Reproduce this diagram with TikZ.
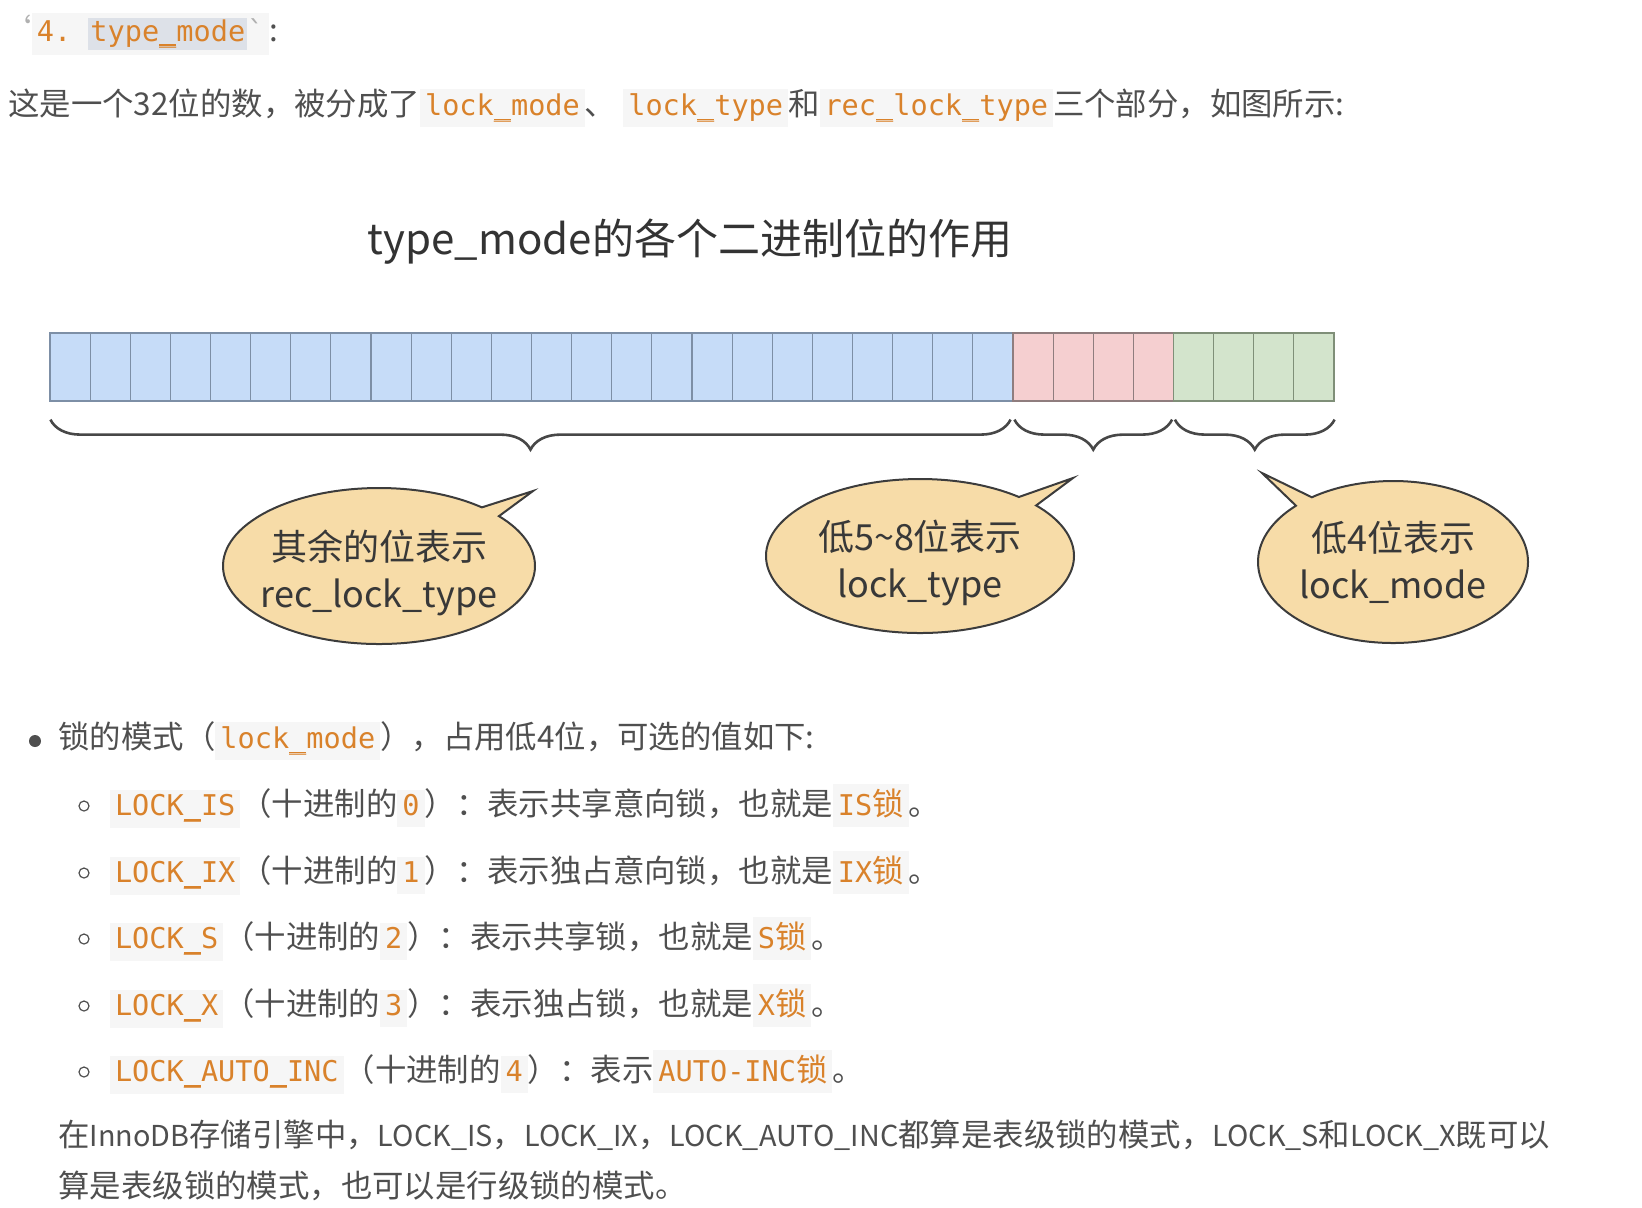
\documentclass[tikz,border=0pt]{standalone}
\usepackage{fontspec}
\setmainfont{Noto Sans CJK SC}
\setmonofont[Scale=0.91]{DejaVu Sans Mono}
\usepackage{tikz}
\usetikzlibrary{positioning}
\usetikzlibrary{decorations.pathreplacing}
\usetikzlibrary{shapes.callouts}
\usetikzlibrary{calc}

\definecolor{bodygray}{HTML}{4F4F4F}
\definecolor{titlegray}{HTML}{333333}
\definecolor{tickgray}{HTML}{B0B0B0}
\definecolor{codeorange}{HTML}{D9822B}
\definecolor{codebg}{HTML}{F6F6F6}
\definecolor{selbg}{HTML}{DDE1E8}
\definecolor{cellblue}{HTML}{C6DCF8}
\definecolor{lineblue}{HTML}{7D8FA6}
\definecolor{cellpink}{HTML}{F5CFD0}
\definecolor{linepink}{HTML}{8F7D7E}
\definecolor{cellgreen}{HTML}{D3E4CC}
\definecolor{linegreen}{HTML}{7F8F78}
\definecolor{bracegray}{HTML}{474747}
\definecolor{bubblefill}{HTML}{F7DCA8}
\definecolor{bubbleline}{HTML}{3C3C3C}
\definecolor{bubbletext}{HTML}{383838}

\newcommand{\codebox}[1]{{\setlength{\fboxsep}{2.5pt}\colorbox{codebg}{\rule[-3pt]{0pt}{12pt}\textcolor{codeorange}{\ttfamily #1}}}}
% underscore in code, made a little bolder
\newcommand{\us}{\_\llap{\rule[-2.4pt]{0.6em}{0.9pt}}}
% latin words in the note are set a bit smaller
\newcommand{\lat}[1]{{\fontsize{14.4}{20}\selectfont #1}}

\begin{document}
\begin{tikzpicture}[x=0.5pt, y=-0.5pt,
    bit/.style={draw, line width=0.6pt, minimum width=20.06pt, minimum height=34pt, inner sep=0pt},
    brace/.style={decorate, decoration={brace, mirror, amplitude=15pt}, line width=1.3pt, draw=bracegray},
    bubble/.style={ellipse callout, callout pointer arc=9, draw=bubbleline, line width=1pt, fill=bubblefill, inner xsep=-6pt, inner ysep=0pt, align=center, text=bubbletext, font=\fontsize{18}{23.5}\selectfont},
    bodytext/.style={anchor=west, inner sep=0pt, text=bodygray, font=\fontsize{15.7}{20}\selectfont},
    hollow/.style={circle, draw=bodygray, line width=0.6pt, minimum size=5pt, inner sep=0pt}]
    \useasboundingbox (0,0) rectangle (1642,1207);
    \def\cellw{40.125}

    % heading and intro
    \node [bodytext] (head) at (0,34) {\textcolor{tickgray}{`}\codebox{4. {\setlength{\fboxsep}{1pt}\colorbox{selbg}{type\us mode}}\textcolor{tickgray}{`}}:};
    \node [bodytext] (intro) at (8,108) {这是一个32位的数，被分成了\codebox{lock\us mode}、 \codebox{lock\us type}和\codebox{rec\us lock\us type}三个部分，如图所示:};
    \node [text=titlegray, font=\fontsize{21}{26}\selectfont] (title) at (690,242) {type\_mode的各个二进制位的作用};

    % the 32 bits
    \foreach \i in {0,...,23}
        \node [bit, fill=cellblue, draw=lineblue] (b\i) at ({50+\cellw*(\i+0.5)},367) {};
    \foreach \i in {24,...,27}
        \node [bit, fill=cellpink, draw=linepink] (b\i) at ({50+\cellw*(\i+0.5)},367) {};
    \foreach \i in {28,...,31}
        \node [bit, fill=cellgreen, draw=linegreen] (b\i) at ({50+\cellw*(\i+0.5)},367) {};

    \draw [brace] ($(b0.south west)+(1,18)$) -- ($(b23.south east)+(-3,18)$);
    \draw [brace] ($(b24.south west)+(2,18)$) -- ($(b27.south east)+(-2,18)$);
    \draw [brace] ($(b28.south west)+(2,18)$) -- ($(b31.south east)+(0,18)$);

    % bubbles
    \coordinate (rest tip) at (533,491);
    \coordinate (type tip) at (1073,478);
    \coordinate (mode tip) at (1262,473);
    \node [bubble, minimum width=156pt, minimum height=78pt, callout absolute pointer={(rest tip)}] (rest) at (379,566) {\rule{0pt}{22pt}其余的位表示\\rec\_lock\_type};
    \node [bubble, minimum width=154pt, minimum height=77pt, callout absolute pointer={(type tip)}] (type) at (920,556) {\rule{0pt}{22pt}低5\textasciitilde8位表示\\lock\_type};
    \node [bubble, minimum width=135pt, minimum height=81pt, callout absolute pointer={(mode tip)}] (mode) at (1393,562) {低4位表示\\lock\_mode};

    % list of lock modes
    \node [circle, fill=bodygray, minimum size=6pt, inner sep=0pt] (dot) at (35,741) {};
    \node [bodytext] (modes) at (58,741) {锁的模式（\codebox{lock\us mode}），占用低4位，可选的值如下:};

    \node [hollow] (o1) at (84,806) {};
    \node [bodytext, right=10pt of o1] (is) {\codebox{LOCK\us IS}（十进制的\codebox{0}）：表示共享意向锁，也就是\codebox{IS{\rmfamily 锁}}。};
    \node [hollow] (o2) at (84,873) {};
    \node [bodytext, right=10pt of o2] (ix) {\codebox{LOCK\us IX}（十进制的\codebox{1}）：表示独占意向锁，也就是\codebox{IX{\rmfamily 锁}}。};
    \node [hollow] (o3) at (84,939) {};
    \node [bodytext, right=10pt of o3] (s) {\codebox{LOCK\us S}（十进制的\codebox{2}）：表示共享锁，也就是\codebox{S{\rmfamily 锁}}。};
    \node [hollow] (o4) at (84,1006) {};
    \node [bodytext, right=10pt of o4] (x) {\codebox{LOCK\us X}（十进制的\codebox{3}）：表示独占锁，也就是\codebox{X{\rmfamily 锁}}。};
    \node [hollow] (o5) at (84,1072) {};
    \node [bodytext, right=10pt of o5] (autoinc) {\codebox{LOCK\us AUTO\us INC}（十进制的\codebox{4}）：表示\codebox{AUTO-INC{\rmfamily 锁}}。};

    \node [bodytext] (note1) at (58,1135) {在\lat{InnoDB}存储引擎中，\lat{LOCK\_IS}，\lat{LOCK\_IX}，\lat{LOCK\_AUTO\_INC}都算是表级锁的模式，\lat{LOCK\_S}和\lat{LOCK\_X}既可以};
    \node [bodytext] (note2) at (58,1186) {算是表级锁的模式，也可以是行级锁的模式。};
\end{tikzpicture}
\end{document}
